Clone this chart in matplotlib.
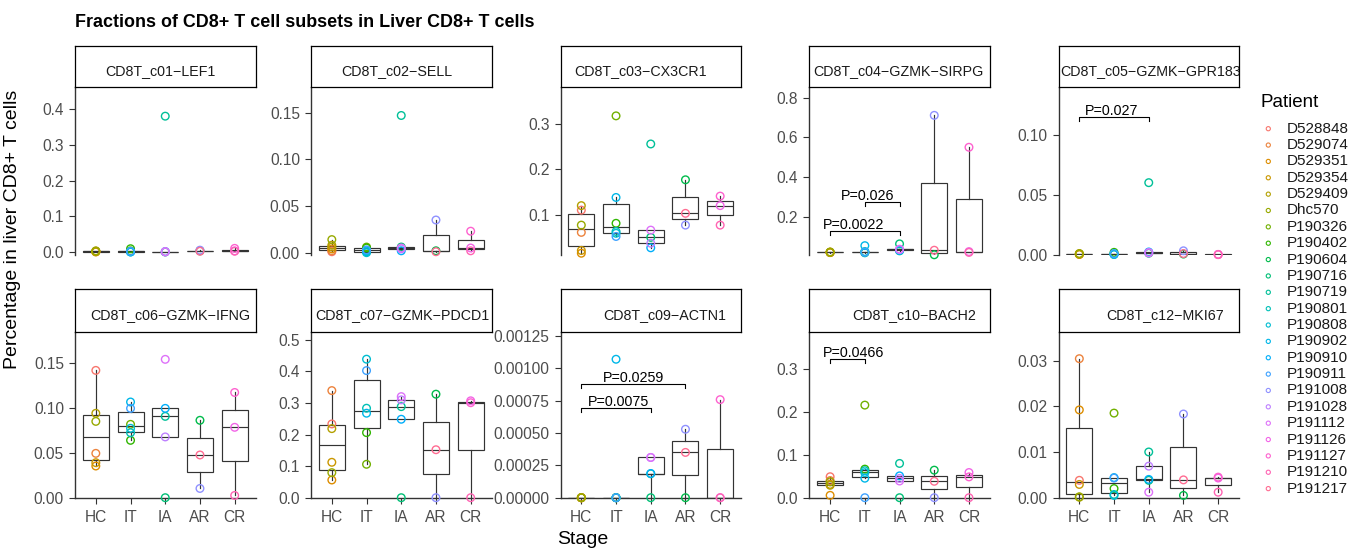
import matplotlib
matplotlib.use("Agg")
import matplotlib.pyplot as plt
import matplotlib.transforms as mtransforms
import numpy as np

plt.rcParams['font.family'] = ['Liberation Sans', 'DejaVu Sans']

W, H = 1365, 554

stages = ["HC", "IT", "IA", "AR", "CR"]

patients = ["D528848", "D529074", "D529351", "D529354", "D529409", "Dhc570",
            "P190326", "P190402", "P190604", "P190716", "P190719", "P190801",
            "P190808", "P190902", "P190910", "P190911", "P191008", "P191028",
            "P191112", "P191126", "P191127", "P191210", "P191217"]
patient_stage = ["HC", "HC", "HC", "HC", "HC", "HC",
                 "IT", "IT", "AR", "IA", "IA", "IT",
                 "IT", "IT", "IA", "IT", "AR", "IA",
                 "IA", "CR", "CR", "CR", "AR"]

# fraction of each subset per patient (same order as patients)
c01_lef1 = [0.002, 0.003, 0.001, 0.002, 0.004, 0.003, 0.004, 0.010, 0.004, 0.001, 0.380, 0.002,
            0.001, 0.001, 0.002, 0.003, 0.006, 0.001, 0.002, 0.004, 0.011, 0.003, 0.003]
c02_sell = [0.001, 0.002, 0.004, 0.006, 0.008, 0.014, 0.006, 0.005, 0.002, 0.006, 0.147, 0.001,
            0.000, 0.002, 0.002, 0.003, 0.035, 0.004, 0.005, 0.005, 0.023, 0.002, 0.001]
c03_cx3cr1 = [0.110, 0.061, 0.015, 0.021, 0.120, 0.077, 0.318, 0.081, 0.177, 0.050, 0.256, 0.063,
              0.059, 0.138, 0.027, 0.052, 0.077, 0.037, 0.066, 0.120, 0.141, 0.077, 0.103]
c04_sirpg = [0.020, 0.021, 0.019, 0.020, 0.022, 0.021, 0.020, 0.022, 0.008, 0.063, 0.028, 0.018,
             0.024, 0.054, 0.030, 0.021, 0.711, 0.035, 0.036, 0.024, 0.550, 0.020, 0.031]
c05_gpr183 = [0.0008, 0.0006, 0.0005, 0.0007, 0.0012, 0.0010, 0.0006, 0.0022, 0.0008, 0.0015, 0.0603, 0.0008,
              0.0010, 0.0004, 0.0025, 0.0012, 0.0035, 0.0020, 0.0018, 0.0004, 0.0005, 0.0003, 0.0012]
c06_ifng = [0.1418, 0.0494, 0.0353, 0.0390, 0.0940, 0.0850, 0.0817, 0.0639, 0.0862, 0.0000, 0.0906, 0.0724,
            0.0773, 0.1066, 0.0995, 0.0995, 0.0103, 0.0677, 0.1541, 0.0784, 0.1172, 0.0025, 0.0476]
c07_pdcd1 = [0.2337, 0.3394, 0.0561, 0.1122, 0.2189, 0.0794, 0.1059, 0.2062, 0.3280, 0.0000, 0.2886, 0.2835,
             0.4389, 0.2677, 0.2486, 0.4028, 0.0000, 0.3099, 0.3203, 0.3070, 0.3010, 0.0000, 0.1520]
c09_actn1 = [0, 0, 0, 0, 0, 0, 0, 0, 0, 0, 0.000185, 0,
             0, 0.00107, 0.000187, 0, 0.000529, 0.000311, 0.000311, 0, 0.000758, 0, 0.000350]
c10_bach2 = [0.049, 0.040, 0.0055, 0.031, 0.029, 0.037, 0.2162, 0.0667, 0.0643, 0.0, 0.080, 0.063,
             0.0585, 0.0455, 0.051, 0.0, 0.0, 0.045, 0.039, 0.0588, 0.0486, 0.0, 0.0383]
c12_mki67 = [0.0038, 0.0304, 0.0192, 0.0029, 0.0001, 0.0002, 0.0185, 0.0020, 0.0005, 0.0038, 0.0100, 0.0007,
             0.0005, 0.0044, 0.0040, 0.0043, 0.0183, 0.0069, 0.0012, 0.0043, 0.0045, 0.0012, 0.0039]

subset_names = ["CD8T_c01\u2212LEF1", "CD8T_c02\u2212SELL", "CD8T_c03\u2212CX3CR1",
                "CD8T_c04\u2212GZMK\u2212SIRPG", "CD8T_c05\u2212GZMK\u2212GPR183",
                "CD8T_c06\u2212GZMK\u2212IFNG", "CD8T_c07\u2212GZMK\u2212PDCD1",
                "CD8T_c09\u2212ACTN1", "CD8T_c10\u2212BACH2", "CD8T_c12\u2212MKI67"]
subset_values = [c01_lef1, c02_sell, c03_cx3cr1, c04_sirpg, c05_gpr183,
                 c06_ifng, c07_pdcd1, c09_actn1, c10_bach2, c12_mki67]

y_ticks = [[0.0, 0.1, 0.2, 0.3, 0.4], [0.00, 0.05, 0.10, 0.15], [0.1, 0.2, 0.3],
           [0.2, 0.4, 0.6, 0.8], [0.00, 0.05, 0.10], [0.00, 0.05, 0.10, 0.15],
           [0.0, 0.1, 0.2, 0.3, 0.4, 0.5], [0, 0.00025, 0.0005, 0.00075, 0.001, 0.00125],
           [0.0, 0.1, 0.2, 0.3], [0.00, 0.01, 0.02, 0.03]]
y_decimals = [1, 2, 1, 1, 2, 2, 1, 5, 1, 2]
y_limits = [(-0.0075, 0.4606), (-0.0025, 0.1772), (0.0111, 0.381), (0.0069, 0.8524), (0.0, 0.1398),
            (0.0, 0.1849), (0.0, 0.526), (0.0, 0.001283), (0.0, 0.3876), (0.0, 0.0363)]

# significance brackets: (from stage, to stage, height, label, label x)
brackets = {
    3: [(1, 3, 0.129, "P=0.0022", 1.686), (2, 3, 0.273, "P=0.026", 2.068)],
    4: [(1, 3, 0.1153, "P=0.027", 1.926)],
    7: [(1, 4, 0.000882, "P=0.0259", 2.504), (1, 3, 0.000693, "P=0.0075", 2.062)],
    8: [(1, 2, 0.325, "P=0.0466", 1.686)],
}


def hue_color(h, c=100.0, l=65.0):
    # ggplot-style HCL hue -> sRGB
    hr = np.deg2rad(h)
    U, V = c * np.cos(hr), c * np.sin(hr)
    Y = ((l + 16) / 116) ** 3 if l > 8 else l / 903.3
    xn, yn, zn = 0.95047, 1.0, 1.08883
    un = 4 * xn / (xn + 15 * yn + 3 * zn)
    vn = 9 * yn / (xn + 15 * yn + 3 * zn)
    u = U / (13 * l) + un
    v = V / (13 * l) + vn
    X = 9 * Y * u / (4 * v)
    Z = -X / 3 - 5 * Y + 3 * Y / v
    M = np.array([[3.240479, -1.537150, -0.498535],
                  [-0.969256, 1.875992, 0.041556],
                  [0.055648, -0.204043, 1.057311]])
    rgb = M @ np.array([X, Y, Z])
    rgb = np.where(rgb <= 0.0031308, 12.92 * rgb, 1.055 * np.abs(rgb) ** (1 / 2.4) - 0.055)
    return tuple(np.clip(rgb, 0, 1))


n_pat = len(patients)
hues = np.linspace(15, 375, n_pat + 1)[:-1]
pat_colors = [hue_color(h) for h in hues]


def px_rect(x0, y0, x1, y1):
    return [x0 / W, 1 - y1 / H, (x1 - x0) / W, (y1 - y0) / H]


fig = plt.figure(figsize=(W / 100, H / 100), dpi=100)

panel_left = [75, 311, 560.5, 809.3, 1058.5]
panel_w = 180.5
strip_top = [45.7, 289.0]
panel_top = [87.3, 331.7]
panel_bot = [255.0, 497.7]
strip_offset = [30.7, 30.7, 14, 4, 1.3, 15, 4.3, 43, 43, 48]

box_col = "#333333"
pos = np.arange(1, len(stages) + 1)

for k, (name, vals) in enumerate(zip(subset_names, subset_values)):
    row, col = divmod(k, 5)
    x0 = panel_left[col]
    ax = fig.add_axes(px_rect(x0, panel_top[row], x0 + panel_w, panel_bot[row]))
    groups = [[v for v, s in zip(vals, patient_stage) if s == st] for st in stages]
    ax.boxplot(groups, positions=pos, widths=0.75, showfliers=False, showcaps=False,
               patch_artist=True,
               boxprops=dict(facecolor="white", edgecolor=box_col, linewidth=0.85),
               whiskerprops=dict(color=box_col, linewidth=0.85),
               medianprops=dict(color=box_col, linewidth=0.85), zorder=2)
    xs = [stages.index(s) + 1 for s in patient_stage]
    ax.scatter(xs, vals, s=30, facecolors="none", edgecolors=pat_colors,
               linewidths=1.0, zorder=3, clip_on=False)

    ax.set_xlim(0.4, 5.6)
    ax.set_ylim(*y_limits[k])
    ax.set_yticks(y_ticks[k])
    ax.set_yticklabels([f"{t:.{y_decimals[k]}f}" for t in y_ticks[k]])
    for sp in ["top", "right"]:
        ax.spines[sp].set_visible(False)
    for sp in ["left", "bottom"]:
        ax.spines[sp].set_color("#333333")
        ax.spines[sp].set_linewidth(1.0)
    ax.tick_params(axis="y", length=4, width=0.8, color="#333333", labelcolor="#4D4D4D",
                   labelsize=11.2, pad=4.0)
    if row == 0:
        ax.spines["bottom"].set_visible(False)
        ax.set_xticks([])
    else:
        ax.set_xticks(pos)
        ax.set_xticklabels(stages)
        ax.tick_params(axis="x", length=4, width=0.8, color="#333333", labelcolor="#4D4D4D",
                       labelsize=11.2, pad=4.5)

    ph = panel_bot[row] - panel_top[row]
    yr = y_limits[k][1] - y_limits[k][0]
    drop = 4.0 / ph * yr
    txt_tr = mtransforms.offset_copy(ax.transData, fig=fig, y=1.8, units="dots")
    for (a, b, yb, lab, lx) in brackets.get(k, []):
        ax.plot([a, a, b, b], [yb - drop, yb, yb, yb - drop], color="black", lw=0.8,
                zorder=4, clip_on=False)
        ax.text(lx, yb, lab, transform=txt_tr, ha="center", va="baseline",
                fontsize=10.3, color="black")

    # facet strip
    sax = fig.add_axes(px_rect(x0, strip_top[row], x0 + panel_w, panel_top[row]))
    sax.set_xticks([])
    sax.set_yticks([])
    for sp in sax.spines.values():
        sp.set_color("black")
        sp.set_linewidth(0.9)
    sax.text(strip_offset[k] / panel_w, 0.30, name, transform=sax.transAxes,
             ha="left", va="baseline", fontsize=10.3, color="#1A1A1A", clip_on=True)

# titles
fig.text(75 / W, 1 - 26.7 / H, "Fractions of CD8+ T cell subsets in Liver CD8+ T cells",
         fontsize=12.9, fontweight="bold", ha="left", va="baseline")
fig.text(13 / W, 1 - 229 / H, "Percentage in liver CD8+ T cells", rotation=90,
         fontsize=14, ha="center", va="center")
fig.text(583 / W, 1 - 540 / H, "Stage", fontsize=14, ha="center", va="center")

# legend
leg = fig.add_axes([0, 0, 1, 1])
leg.set_xlim(0, W)
leg.set_ylim(H, 0)
leg.axis("off")
leg.text(1260.7, 106.7, "Patient", fontsize=13.5, ha="left", va="baseline")
for i, (p, c) in enumerate(zip(patients, pat_colors)):
    yy = 128.7 + 16.36 * i
    leg.scatter([1268.3], [yy], s=9, facecolors="none", edgecolors=[c], linewidths=0.8)
    leg.text(1286.7, yy, p, fontsize=11, ha="left", va="center", color="#1A1A1A")

fig.savefig("out.png", dpi=100)
